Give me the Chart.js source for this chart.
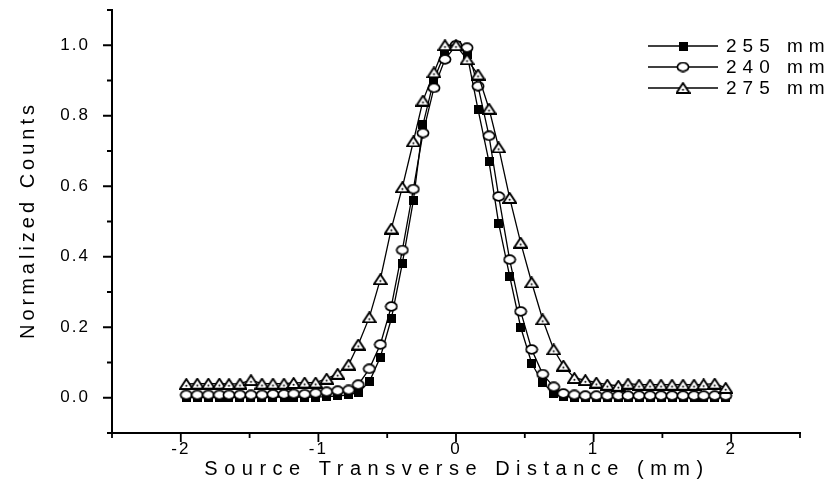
<!DOCTYPE html>
<html lang="en">
<head>
<meta charset="UTF-8">
<title>Normalized Counts vs Source Transverse Distance</title>
<script src="https://cdn.jsdelivr.net/npm/chart.js"></script>
<style>
  body { margin: 0; background: #fff; }
  .chart-container { position: relative; width: 832px; height: 497px; }
</style>
</head>
<body>
<div class="chart-container"><canvas id="profileChart"></canvas></div>
<script>
// source transverse distance (mm)
const distances = [
  -1.96, -1.88, -1.80, -1.72, -1.65, -1.57, -1.49, -1.41, -1.33, -1.25,
  -1.18, -1.10, -1.02, -0.94, -0.86, -0.78, -0.71, -0.63, -0.55, -0.47,
  -0.39, -0.31, -0.24, -0.16, -0.08, 0, 0.08, 0.16, 0.24, 0.31,
  0.39, 0.47, 0.55, 0.63, 0.71, 0.78, 0.86, 0.94, 1.02, 1.10,
  1.18, 1.25, 1.33, 1.41, 1.49, 1.57, 1.65, 1.73, 1.80, 1.88, 1.96
];
const counts255 = [
  0.002, 0.002, 0.002, 0.002, 0.002, 0.002, 0.002, 0.002, 0.002, 0.002,
  0.002, 0.002, 0.002, 0.003, 0.005, 0.008, 0.015, 0.045, 0.115, 0.224,
  0.381, 0.559, 0.775, 0.903, 0.979, 1.0, 0.975, 0.818, 0.669, 0.495,
  0.345, 0.200, 0.098, 0.042, 0.012, 0.004, 0.002, 0.002, 0.002, 0.002,
  0.002, 0.002, 0.002, 0.002, 0.002, 0.002, 0.002, 0.002, 0.002, 0.002, 0.002
];
const counts240 = [
  0.008, 0.008, 0.008, 0.008, 0.008, 0.008, 0.008, 0.008, 0.010, 0.010,
  0.011, 0.010, 0.013, 0.017, 0.020, 0.022, 0.037, 0.082, 0.151, 0.259,
  0.419, 0.592, 0.751, 0.879, 0.960, 1.0, 0.993, 0.884, 0.743, 0.571,
  0.392, 0.245, 0.137, 0.067, 0.031, 0.012, 0.008, 0.006, 0.006, 0.006,
  0.006, 0.006, 0.006, 0.006, 0.006, 0.006, 0.006, 0.006, 0.006, 0.006, 0.006
];
const counts275 = [
  0.039, 0.040, 0.040, 0.040, 0.039, 0.040, 0.050, 0.040, 0.040, 0.040,
  0.042, 0.043, 0.043, 0.054, 0.068, 0.094, 0.151, 0.228, 0.336, 0.480,
  0.597, 0.727, 0.843, 0.923, 1.0, 1.0, 0.960, 0.917, 0.820, 0.710,
  0.567, 0.440, 0.327, 0.222, 0.137, 0.091, 0.056, 0.050, 0.043, 0.037,
  0.034, 0.040, 0.037, 0.037, 0.037, 0.037, 0.037, 0.037, 0.038, 0.040, 0.028
];
const seriesLabels = ['255 mm', '240 mm', '275 mm'];
const xMajorTicks = [-2, -1, 0, 1, 2];
const xMinorTicks = [-2.5, -1.5, -0.5, 0.5, 1.5, 2.5];
const yMajorTicks = [0, 0.2, 0.4, 0.6, 0.8, 1.0];
const yMinorTicks = [-0.1, 0.1, 0.3, 0.5, 0.7, 0.9, 1.1];

const FONT = '"Liberation Sans", Arial, sans-serif';

// marker images
function makeMarker(w, h, draw) {
  const c = document.createElement('canvas');
  c.width = w; c.height = h;
  draw(c.getContext('2d'));
  return c;
}
const squareMarker = makeMarker(9, 9, g => {
  g.fillStyle = '#000';
  g.fillRect(0, 0, 9, 9);
});
const circleMarker = makeMarker(14, 11, g => {
  g.beginPath();
  g.ellipse(7, 5.5, 5.6, 4.3, 0, 0, Math.PI * 2);
  g.fillStyle = '#fff'; g.fill();
  g.lineWidth = 1.7; g.strokeStyle = '#000'; g.stroke();
});
const triangleMarker = makeMarker(15, 12, g => {
  g.beginPath();
  g.moveTo(7.5, 1); g.lineTo(14, 11); g.lineTo(1, 11); g.closePath();
  g.fillStyle = '#fff'; g.fill();
  g.lineWidth = 1.9; g.lineJoin = 'miter'; g.strokeStyle = '#000'; g.stroke();
  g.beginPath(); g.arc(7.5, 7.8, 1, 0, Math.PI * 2);
  g.fillStyle = '#000'; g.fill();
});
const markers = [squareMarker, circleMarker, triangleMarker];

function toPoints(vals) {
  return distances.map((d, i) => ({ x: d, y: vals[i] }));
}

function makeDataset(label, vals, marker, order) {
  return {
    label: label,
    data: toPoints(vals),
    showLine: true,
    borderColor: '#000',
    borderWidth: 1.3,
    pointStyle: marker,
    pointRadius: 5,
    order: order
  };
}

// no extra room for the edge labels, the plot box is fixed
function noPad(s) {
  s.paddingTop = 0; s.paddingBottom = 0; s.paddingLeft = 0; s.paddingRight = 0;
}

const extras = {
  id: 'extras',
  beforeDraw(chart) {
    chart.ctx.letterSpacing = '2px';
  },
  afterDraw(chart) {
    const { ctx, scales: { x, y } } = chart;
    ctx.save();
    ctx.strokeStyle = '#000';
    ctx.lineWidth = 1.8;
    ctx.beginPath();
    // y ticks
    const yl = x.left;
    yMajorTicks.forEach(v => { const p = y.getPixelForValue(v); ctx.moveTo(yl, p); ctx.lineTo(yl - 9, p); });
    yMinorTicks.forEach(v => { const p = y.getPixelForValue(v); ctx.moveTo(yl, p); ctx.lineTo(yl - 5, p); });
    // x ticks
    const xb = y.bottom;
    xMajorTicks.forEach(v => { const p = x.getPixelForValue(v); ctx.moveTo(p, xb); ctx.lineTo(p, xb + 9); });
    xMinorTicks.forEach(v => { const p = x.getPixelForValue(v); ctx.moveTo(p, xb); ctx.lineTo(p, xb + 5); });
    ctx.stroke();

    // axis titles
    ctx.fillStyle = '#000';
    ctx.font = '20px ' + FONT;
    ctx.letterSpacing = '6.5px';
    ctx.textAlign = 'center';
    ctx.textBaseline = 'middle';
    ctx.fillText('Source Transverse Distance (mm)', 457, 469);
    ctx.save();
    ctx.translate(28, 220);
    ctx.rotate(-Math.PI / 2);
    ctx.letterSpacing = '4px';
    ctx.fillText('Normalized Counts', 0, 0);
    ctx.restore();

    // legend
    ctx.font = '19px ' + FONT;
    ctx.letterSpacing = '6px';
    ctx.textAlign = 'left';
    chart.data.datasets.forEach((ds, i) => {
      const ry = 46 + 21 * i;
      ctx.lineWidth = 1.3;
      ctx.beginPath();
      ctx.moveTo(648, ry); ctx.lineTo(718, ry);
      ctx.stroke();
      const m = ds.pointStyle;
      ctx.drawImage(m, 683 - m.width / 2, ry - m.height / 2);
      ctx.fillText(ds.label, 726, ry + 1);
    });
    ctx.restore();
  }
};

new Chart(document.getElementById('profileChart'), {
  type: 'scatter',
  data: {
    datasets: [
      makeDataset(seriesLabels[0], counts255, markers[0], 2),
      makeDataset(seriesLabels[1], counts240, markers[1], 1),
      makeDataset(seriesLabels[2], counts275, markers[2], 0)
    ]
  },
  options: {
    responsive: true,
    maintainAspectRatio: false,
    animation: false,
    layout: { padding: { top: 10, right: 32, left: 0, bottom: 0 }, autoPadding: false },
    plugins: {
      legend: { display: false },
      tooltip: { enabled: false }
    },
    scales: {
      x: {
        type: 'linear',
        min: -2.5,
        max: 2.5,
        afterBuildTicks: s => { s.ticks = xMajorTicks.map(v => ({ value: v })); },
        afterFit: s => { s.height = 64; noPad(s); },
        ticks: {
          color: '#000',
          font: { family: FONT, size: 17 },
          padding: 6,
          maxRotation: 0,
          callback: v => String(v)
        },
        grid: { display: false, drawTicks: false },
        border: { display: true, color: '#000', width: 2 }
      },
      y: {
        min: -0.1,
        max: 1.1,
        afterBuildTicks: s => { s.ticks = yMajorTicks.map(v => ({ value: v })); },
        afterFit: s => { s.width = 112; noPad(s); },
        ticks: {
          color: '#000',
          font: { family: FONT, size: 17 },
          padding: 22,
          callback: v => v.toFixed(1)
        },
        grid: { display: false, drawTicks: false },
        border: { display: true, color: '#000', width: 2 }
      }
    }
  },
  plugins: [extras]
});
</script>
</body>
</html>
